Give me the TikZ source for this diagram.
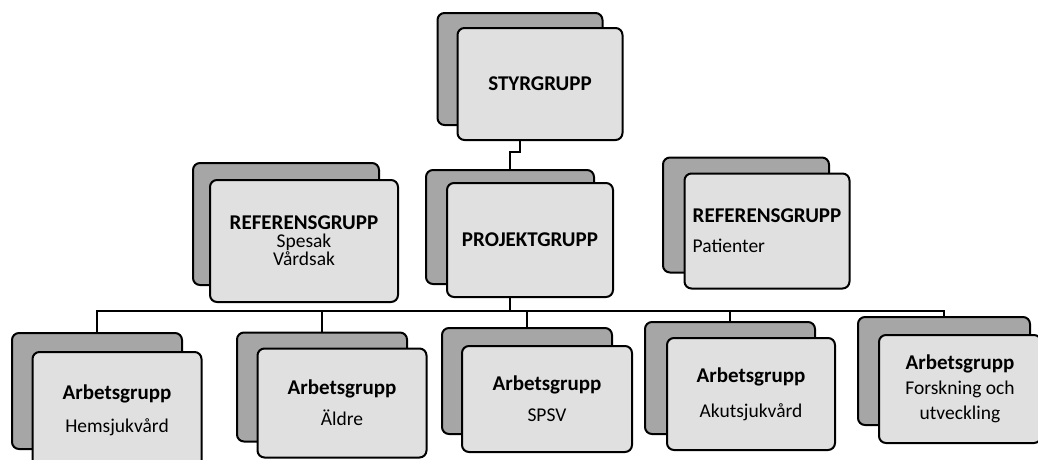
\documentclass[tikz,border=0pt]{standalone}
\usepackage{fontspec}
\usepackage{tikz}
\usetikzlibrary{backgrounds}
\newfontfamily\cbody{Carlito}
\newcommand{\grptitle}[1]{{\fontsize{21}{21}\selectfont\textbf{#1}}}

\tikzset{
    backbox/.style={draw, line width=2pt, rounded corners=7pt, fill=gray!70},
    frontbox/.style={draw, line width=2pt, rounded corners=7pt, fill=gray!24, align=center, font=\cbody},
    link/.style={line width=1.7pt}
}

\begin{document}
\begin{tikzpicture}[x=1pt, y=-1pt]
        \useasboundingbox (0, 0) rectangle (1038, 459);

        % top
        \node[backbox, minimum width=165pt, minimum height=112pt] at (520, 69) (styrB) {};
        \node[frontbox, minimum width=165pt, minimum height=112pt, font=\cbody\fontsize{19.5}{22}\selectfont] at (540, 84) (styr) {\grptitle{STYRGRUPP}};

        % middle row
        \node[backbox, minimum width=186pt, minimum height=122pt] at (286, 224) (ref1B) {};
        \node[frontbox, minimum width=188pt, minimum height=122pt, font=\cbody\fontsize{19.5}{18}\selectfont] at (304, 241) (ref1) {\grptitle{REFERENSGRUPP}\\Spesak\\Vårdsak};
        \node[backbox, minimum width=168pt, minimum height=114pt] at (510, 227) (projB) {};
        \node[frontbox, minimum width=166pt, minimum height=114pt, font=\cbody\fontsize{19.5}{22}\selectfont] at (530, 240) (proj) {\grptitle{PROJEKTGRUPP}};
        \node[backbox, minimum width=166pt, minimum height=115pt] at (746, 215) (ref2B) {};
        \node[frontbox, minimum width=165pt, minimum height=115pt, align=left, font=\cbody\fontsize{19.5}{30}\selectfont] at (767, 231) (ref2) {\grptitle{REFERENSGRUPP}\\Patienter};

        % bottom row
        \node[backbox, minimum width=170pt, minimum height=116pt] at (97, 391) (hemB) {};
        \node[frontbox, minimum width=169pt, minimum height=116pt, font=\cbody\fontsize{19.5}{33}\selectfont] at (117, 410) (hem) {\grptitle{Arbetsgrupp}\\Hemsjukvård};
        \node[backbox, minimum width=170pt, minimum height=109pt] at (322, 387) (aldreB) {};
        \node[frontbox, minimum width=169pt, minimum height=109pt, font=\cbody\fontsize{19.5}{31}\selectfont] at (342, 403) (aldre) {\grptitle{Arbetsgrupp}\\Äldre};
        \node[backbox, minimum width=170pt, minimum height=106pt] at (527, 381) (spsvB) {};
        \node[frontbox, minimum width=170pt, minimum height=106pt, font=\cbody\fontsize{19.5}{31}\selectfont] at (547, 399) (spsv) {\grptitle{Arbetsgrupp}\\SPSV};
        \node[backbox, minimum width=170pt, minimum height=112pt] at (730, 378) (akutB) {};
        \node[frontbox, minimum width=168pt, minimum height=112pt, font=\cbody\fontsize{19.5}{35}\selectfont] at (751, 394) (akut) {\grptitle{Arbetsgrupp}\\Akutsjukvård};
        \node[backbox, minimum width=172pt, minimum height=108pt] at (944, 371) (forskB) {};
        \node[frontbox, minimum width=162pt, minimum height=108pt, font=\cbody\fontsize{19.5}{25}\selectfont] at (960, 389) (forsk) {\grptitle{Arbetsgrupp}\\Forskning och\\utveckling};

        \coordinate (styrjog) at (515, 152);
        \coordinate (bus) at (510, 311);

        \begin{pgfonlayer}{background}
            \fill[white] (0, 0) rectangle (1038, 459);
            \draw[link] (styrB.south) |- (styrjog) -| (projB.north);
            \draw[link] (projB.south) -- (bus);
            \foreach \grp in {hemB, aldreB, spsvB, akutB, forskB}
                \draw[link] (bus) -| (\grp.north);
        \end{pgfonlayer}
    \end{tikzpicture}
\end{document}
